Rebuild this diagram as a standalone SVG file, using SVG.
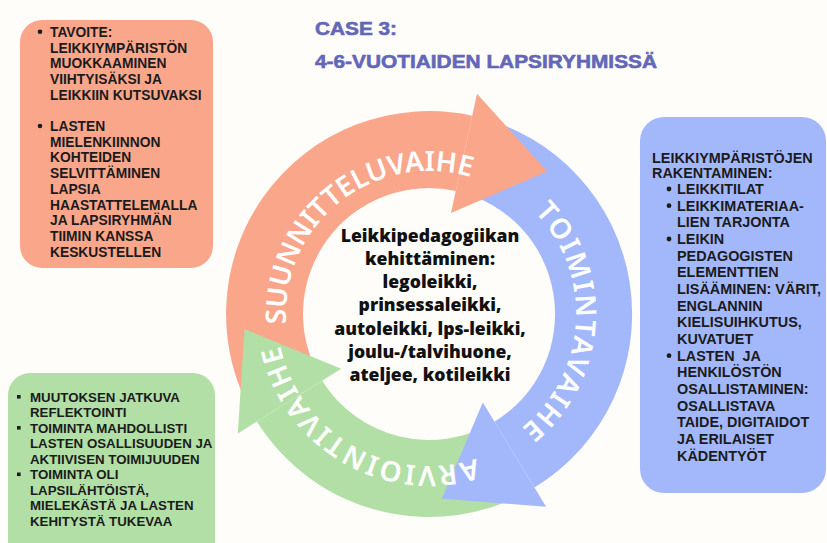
<svg xmlns="http://www.w3.org/2000/svg" width="827" height="543" viewBox="0 0 827 543">
<style>
.bx{font-family:"Liberation Sans",Arial,sans-serif;font-weight:bold;fill:#1b1b1b}
.t1{font-size:13.8px}
.t2{font-size:14.4px}
.t3{font-size:13.3px}
.ctr{font-family:"Open Sans","Noto Sans",sans-serif;font-weight:800;font-size:17.6px;fill:#111;text-anchor:middle}
.ring{font-family:"Noto Sans","Open Sans",sans-serif;font-weight:600;font-size:28px;fill:#fff}
.ttl{font-family:"Liberation Sans",Arial,sans-serif;font-weight:bold;fill:#6467b7;stroke:#6467b7;stroke-width:0.6}
.or{fill:#f9a68b}.bl{fill:#a3b8fb}.gr{fill:#b2dfa6}
.dot{fill:#1b1b1b}
</style>
<defs>
<path id="pOr" d="M 286.3 324.0 A 143 143 0 0 1 470.8 177.2"/>
<path id="pBl" d="M 534.7 211.9 A 147 147 0 0 1 521.5 428.2"/>
<path id="pGr" d="M 476.0 458.6 A 152 152 0 0 1 280.3 345.6"/>
</defs>
<rect width="827" height="543" fill="#fefdf9"/>

<g id="title">
<text class="ttl" x="315" y="35" font-size="19" textLength="82" lengthAdjust="spacingAndGlyphs">CASE 3:</text>
<text class="ttl" x="315" y="67.5" font-size="19" textLength="342" lengthAdjust="spacingAndGlyphs">4-6-VUOTIAIDEN LAPSIRYHMISSÄ</text>
</g>

<g id="box-tavoite">
<rect class="or" x="20" y="20" width="193" height="248" rx="22"/>
<circle class="dot" cx="40" cy="31.7" r="2.3"/>
<circle class="dot" cx="40" cy="126" r="2.3"/>
<text class="bx t1" x="50" y="36.7">TAVOITE:</text>
<text class="bx t1" x="50" y="52.5">LEIKKIYMPÄRISTÖN</text>
<text class="bx t1" x="50" y="68.2">MUOKKAAMINEN</text>
<text class="bx t1" x="50" y="84">VIIHTYISÄKSI JA</text>
<text class="bx t1" x="50" y="99.7">LEIKKIIN KUTSUVAKSI</text>
<text class="bx t1" x="50" y="131">LASTEN</text>
<text class="bx t1" x="50" y="146.7">MIELENKIINNON</text>
<text class="bx t1" x="50" y="162.4">KOHTEIDEN</text>
<text class="bx t1" x="50" y="178.1">SELVITTÄMINEN</text>
<text class="bx t1" x="50" y="193.8">LAPSIA</text>
<text class="bx t1" x="50" y="209.5">HAASTATTELEMALLA</text>
<text class="bx t1" x="50" y="225.2">JA LAPSIRYHMÄN</text>
<text class="bx t1" x="50" y="240.9">TIIMIN KANSSA</text>
<text class="bx t1" x="50" y="256.6">KESKUSTELLEN</text>
</g>

<g id="box-rakentaminen">
<rect class="bl" x="640" y="117" width="186" height="376" rx="24"/>
<text class="bx t2" x="652" y="162.7">LEIKKIYMPÄRISTÖJEN</text>
<text class="bx t2" x="652" y="177.7">RAKENTAMINEN:</text>
<circle class="dot" cx="669" cy="189" r="2.4"/>
<circle class="dot" cx="669" cy="205.7" r="2.4"/>
<circle class="dot" cx="669" cy="239" r="2.4"/>
<circle class="dot" cx="669" cy="355.7" r="2.4"/>
<text class="bx t2" x="677" y="194">LEIKKITILAT</text>
<text class="bx t2" x="677" y="210.7">LEIKKIMATERIAA-</text>
<text class="bx t2" x="677" y="227.3">LIEN TARJONTA</text>
<text class="bx t2" x="677" y="244">LEIKIN</text>
<text class="bx t2" x="677" y="260.7">PEDAGOGISTEN</text>
<text class="bx t2" x="677" y="277.3">ELEMENTTIEN</text>
<text class="bx t2" x="677" y="294">LISÄÄMINEN: VÄRIT,</text>
<text class="bx t2" x="677" y="310.7">ENGLANNIN</text>
<text class="bx t2" x="677" y="327.3">KIELISUIHKUTUS,</text>
<text class="bx t2" x="677" y="344">KUVATUET</text>
<text class="bx t2" x="677" y="360.7">LASTEN&#160; JA</text>
<text class="bx t2" x="677" y="377.3">HENKILÖSTÖN</text>
<text class="bx t2" x="677" y="394">OSALLISTAMINEN:</text>
<text class="bx t2" x="677" y="410.7">OSALLISTAVA</text>
<text class="bx t2" x="677" y="427.3">TAIDE, DIGITAIDOT</text>
<text class="bx t2" x="677" y="444">JA ERILAISET</text>
<text class="bx t2" x="677" y="460.7">KÄDENTYÖT</text>
</g>

<g id="box-arviointi">
<rect class="gr" x="8" y="373" width="207" height="200" rx="22"/>
<rect class="dot" x="17" y="395" width="3.6" height="3.6"/>
<rect class="dot" x="17" y="426" width="3.6" height="3.6"/>
<rect class="dot" x="17" y="472.5" width="3.6" height="3.6"/>
<text class="bx t3" x="30" y="401.5">MUUTOKSEN JATKUVA</text>
<text class="bx t3" x="30" y="417">REFLEKTOINTI</text>
<text class="bx t3" x="30" y="432.5">TOIMINTA MAHDOLLISTI</text>
<text class="bx t3" x="30" y="448">LASTEN OSALLISUUDEN JA</text>
<text class="bx t3" x="30" y="463.5">AKTIIVISEN TOIMIJUUDEN</text>
<text class="bx t3" x="30" y="479">TOIMINTA OLI</text>
<text class="bx t3" x="30" y="494.5">LAPSILÄHTÖISTÄ,</text>
<text class="bx t3" x="30" y="510">MIELEKÄSTÄ JA LASTEN</text>
<text class="bx t3" x="30" y="525.5">KEHITYSTÄ TUKEVAA</text>
</g>

<g id="connectors">
<path class="or" d="M 255.0 418.5 A 203 203 0 0 1 472.2 115.7 L 455.8 190.9 A 126 126 0 0 0 321.0 378.9 Z"/>
<path class="bl" d="M 475.7 116.4 A 203 203 0 0 1 534.5 487.5 L 494.5 421.7 A 126 126 0 0 0 458.0 191.4 Z"/>
<path class="gr" d="M 531.4 489.3 A 203 203 0 0 1 256.9 421.6 L 322.2 380.8 A 126 126 0 0 0 492.6 422.8 Z"/>
<path class="or" d="M 477.0 93.7 L 547.0 171.4 L 451.0 212.9 Z"/>
<path class="bl" d="M 546.1 506.7 L 441.9 498.8 L 482.8 402.4 Z"/>
<path class="gr" d="M 237.8 433.5 L 244.5 329.1 L 341.2 368.8 Z"/>
</g>

<g id="phase-suunnittelu">
<text class="ring"><textPath href="#pOr" textLength="277" lengthAdjust="spacing">SUUNNITTELUVAIHE</textPath></text>
</g>
<g id="phase-toiminta">
<text class="ring"><textPath href="#pBl" textLength="243.7" lengthAdjust="spacing">TOIMINTAVAIHE</textPath></text>
</g>
<g id="phase-arviointi">
<text class="ring"><textPath href="#pGr" textLength="254.7" lengthAdjust="spacing">ARVIOINTIVAIHE</textPath></text>
</g>

<g id="center">
<text class="ctr" x="430" y="241.5">Leikkipedagogiikan</text>
<text class="ctr" x="430" y="264.8">kehittäminen:</text>
<text class="ctr" x="430" y="288.1">legoleikki,</text>
<text class="ctr" x="430" y="311.4">prinsessaleikki,</text>
<text class="ctr" x="430" y="334.7">autoleikki, lps-leikki,</text>
<text class="ctr" x="430" y="358">joulu-/talvihuone,</text>
<text class="ctr" x="430" y="381.3">ateljee, kotileikki</text>
</g>
</svg>
